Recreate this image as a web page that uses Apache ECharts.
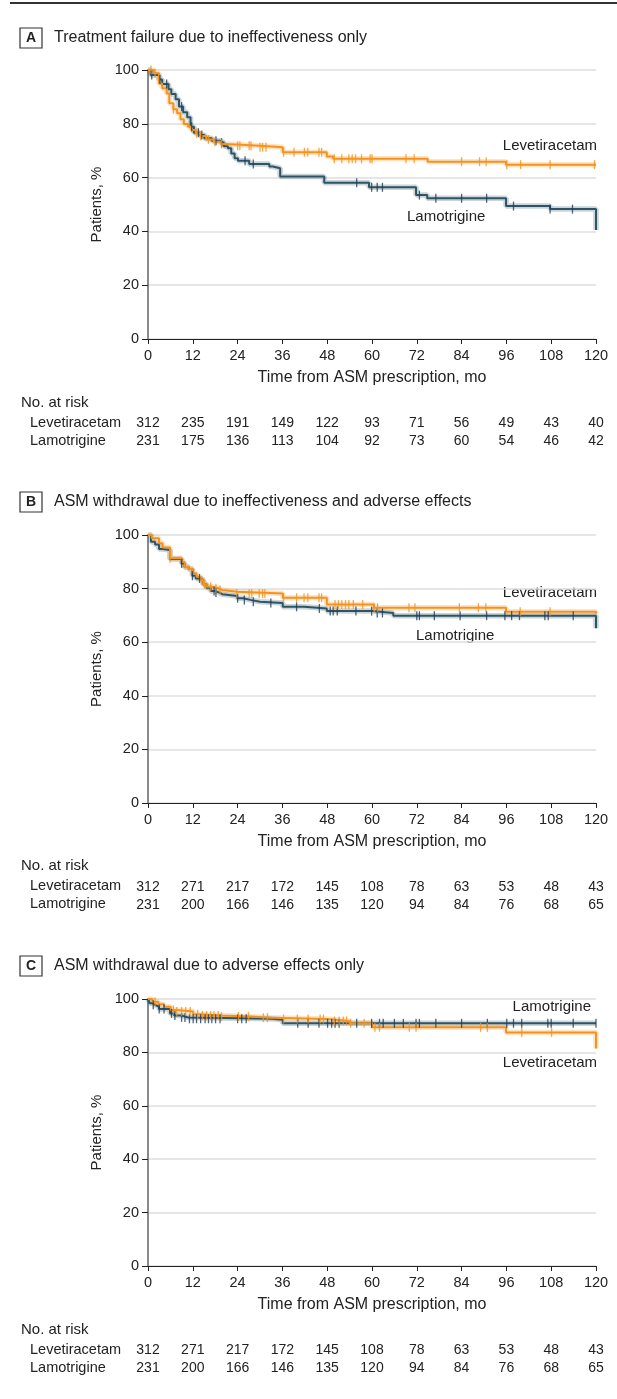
<!DOCTYPE html>
<html><head><meta charset="utf-8">
<script src="https://cdn.jsdelivr.net/npm/echarts@6/dist/echarts.min.js"></script>
<style>html,body{margin:0;padding:0;background:#fff}#c{width:617px;height:1399px}</style>
</head><body><div id="c"></div>
<script>
// ---------- DATA ----------
const xTicks = [0,12,24,36,48,60,72,84,96,108,120];
const panelTitles = ['Treatment failure due to ineffectiveness only',
  'ASM withdrawal due to ineffectiveness and adverse effects',
  'ASM withdrawal due to adverse effects only'];
const panelLetters = ['A','B','C'];

// Kaplan-Meier steps [month, % patients]
const levA = [[0,100],[1.6,98.8],[2.95,95.0],[3.8,93.2],[5.0,91.3],[5.7,87.6],[6.8,85.4],[7.8,83.9],[8.7,81.7],[9.6,79.9],[10.7,78.9],[11.6,77.7],[12.8,76.5],[14.0,75.5],[15.6,74.2],[17.6,73.3],[19.6,72.5],[20.8,71.8],[30,71.3],[36.1,69.4],[47.9,67.8],[49.6,67.0],[74.9,65.9],[95.9,64.8],[120,64.8]];
const lamA = [[0,100],[0.7,98.1],[2.95,96.5],[3.8,94.8],[5.5,92.8],[6.25,91.1],[7.4,89.1],[8.3,86.4],[9.4,84.3],[10.5,82.4],[11.4,78.9],[12.3,76.7],[13.8,75.8],[15.1,74.6],[17.1,73.7],[19.1,73.0],[20.3,71.7],[21.4,70.9],[22.3,69.0],[23.2,67.2],[24.1,66.3],[27.1,65.1],[32.5,64.1],[33.4,63.5],[35.4,60.4],[47.2,58.1],[59.2,56.4],[71.8,53.5],[74.8,52.3],[95.9,49.4],[107.7,48.3],[120,40.5]];
const levB = [[0,100],[1.0,98.8],[2.95,96.9],[3.9,95.3],[5.9,91.3],[9.0,89.9],[9.8,88.1],[10.9,87.3],[11.9,85.7],[13.0,84.4],[13.9,83.2],[14.8,81.6],[15.7,80.7],[17.1,80.1],[19.0,79.5],[19.9,78.8],[23.8,78.2],[36.1,76.6],[47.9,74.1],[60.5,72.9],[95.9,71.4],[120,70.6]];
const lamB = [[0,100],[0.8,97.5],[1.9,96.5],[2.95,94.8],[3.9,94.4],[5.9,91.0],[9.0,89.4],[9.8,88.1],[10.9,87.3],[11.9,84.8],[12.8,83.8],[13.9,83.2],[14.8,81.6],[15.7,80.3],[16.8,79.1],[17.9,78.5],[19.1,77.9],[19.9,77.2],[23.9,76.4],[25.5,75.7],[27.7,75.1],[30,74.6],[36.1,73.2],[41.8,72.6],[47.9,71.6],[60,70.9],[65.7,69.9],[120,65.2]];
const levC = [[0,100],[1.2,99.0],[2.8,98.0],[4.3,97.1],[6.1,95.9],[7.7,95.3],[12.1,94.3],[13.9,93.8],[19.7,93.4],[27.3,93.0],[33.0,92.5],[47.9,91.8],[54.0,90.9],[60,89.4],[95.9,87.5],[120,81.5]];
const lamC = [[0,100],[0.5,98.4],[1.2,97.8],[1.9,97.1],[2.95,96.3],[5.9,94.6],[7.0,93.8],[9.0,93.1],[10.8,92.6],[33.1,92.2],[36.1,90.9],[120,90.9]];

// censoring times (months)
const levAcens = [0.8,1.9,6.8,13.0,14.1,16.2,17.9,19.7,24.0,24.6,27.1,27.6,30.0,30.7,31.6,36.3,39.1,41.9,42.8,45.8,46.5,49.9,51.9,53.8,54.7,55.6,57.2,59.5,60.0,69.1,71.3,84.0,88.8,90.6,96.1,99.8,107.7,119.6];
const lamAcens = [1.0,3.2,5.0,9.0,11.7,13.5,14.4,18.2,19.7,26.0,28.2,55.9,59.9,61.4,62.8,72.7,77.1,84.0,90.7,97.9,107.7,113.7];
const levBcens = [5.9,14.4,15.1,16.8,18.2,19.3,23.8,27.1,27.8,29.8,30.7,31.3,36.3,39.8,41.8,42.8,45.8,46.5,50.1,51.0,51.9,52.9,53.8,55.0,57.5,60.6,61.5,69.9,71.5,83.4,88.5,90.5,99.7,107.7];
const lamBcens = [9.0,11.9,13.8,17.7,18.2,24.0,25.8,28.2,32.9,39.8,45.9,48.8,49.6,50.7,55.7,59.9,61.4,62.8,72.0,72.7,76.7,83.6,90.7,95.6,97.4,99.5,106.3,107.2,113.9];
const levCcens = [1.9,6.8,7.7,9.0,10.1,11.3,13.3,14.6,15.7,16.8,17.7,18.8,19.7,24.2,26.9,30.9,32.0,36.3,40.0,42.9,46.1,47.0,49.9,51.2,52.3,53.2,54.3,57.9,60.8,62.0,70.0,71.8,89.1,90.9,100.1,108.1];
const lamCcens = [1.4,3.0,4.3,6.3,7.2,9.0,9.9,11.1,12.1,13.0,14.1,15.3,16.2,17.1,18.1,19.3,24.0,25.1,26.3,40.1,42.9,45.8,48.1,49.2,50.1,51.2,55.9,59.9,62.0,63.0,66.0,68.4,71.8,72.7,77.1,84.0,90.9,96.1,97.9,100.1,107.1,108.0,113.9,120];

// numbers at risk
const levRiskA = [312,235,191,149,122,93,71,56,49,43,40];
const lamRiskA = [231,175,136,113,104,92,73,60,54,46,42];
const levRiskB = [312,271,217,172,145,108,78,63,53,48,43];
const lamRiskB = [231,200,166,146,135,120,94,84,76,68,65];
const levRiskC = [312,271,217,172,145,108,78,63,53,48,43];
const lamRiskC = [231,200,166,146,135,120,94,84,76,68,65];

// ---------- LAYOUT / STYLE ----------
const FONT = '"Liberation Sans",Arial,sans-serif';
const ORANGE = '#F5921E', DARK = '#2D5566', DARKTICK = '#1F3C5A';
const TXT = '#222';
const grids = [{top:70,height:269},{top:535,height:268},{top:999,height:267}];
const titleY = [38,502,966];
const riskHeadY = [403,866,1330];
const curves = [[levA,lamA,levAcens,lamAcens,levRiskA,lamRiskA],
                [levB,lamB,levBcens,lamBcens,levRiskB,lamRiskB],
                [levC,lamC,levCcens,lamCcens,levRiskC,lamRiskC]];
const curveLabels = [
  [{t:'Levetiracetam',x:597,y:146,a:'right'},{t:'Lamotrigine',x:407,y:217,a:'left'}],
  [{t:'Levetiracetam',x:597,y:593,a:'right'},{t:'Lamotrigine',x:416,y:636,a:'left'}],
  [{t:'Lamotrigine',x:591,y:1007,a:'right'},{t:'Levetiracetam',x:597,y:1063,a:'right'}]];

function survAt(curve,t){let s=curve[0][1];for(const [ti,si] of curve){if(ti<=t)s=si;}return s;}

const gridOpt=[],xAxes=[],yAxes=[],series=[],graphics=[];
graphics.push({type:'line',shape:{x1:10,y1:3,x2:617,y2:3},style:{stroke:'#333',lineWidth:2}});
grids.forEach((g,i)=>{
  gridOpt.push({left:148,width:448,top:g.top,height:g.height});
  const [lev,lam,levC_,lamC_,levR,lamR]=curves[i];
  xAxes.push({gridIndex:i,type:'value',min:0,max:120,interval:12,
    axisLine:{onZero:false,lineStyle:{color:TXT,width:1}},axisTick:{length:5,lineStyle:{color:TXT}},
    axisLabel:{fontSize:14.5,color:TXT,margin:9,fontFamily:FONT},splitLine:{show:false},
    name:'Time from ASM prescription, mo',nameLocation:'middle',nameGap:31,
    nameTextStyle:{fontSize:16,color:TXT,fontFamily:FONT}});
  [levR,lamR].forEach((arr,k)=>{
    xAxes.push({gridIndex:i,type:'value',min:0,max:120,interval:12,position:'bottom',offset:77+18*k,
      axisLine:{show:false},axisTick:{show:false},splitLine:{show:false},
      axisLabel:{fontSize:14,color:TXT,margin:0,fontFamily:FONT,formatter:v=>String(arr[Math.round(v/12)])}});
  });
  yAxes.push({gridIndex:i,type:'value',min:0,max:100,interval:20,
    axisLine:{show:true,onZero:false,lineStyle:{color:'#8a8a8a',width:2}},
    axisTick:{show:true,length:6,lineStyle:{color:TXT}},
    axisLabel:{fontSize:14.5,color:TXT,margin:9,fontFamily:FONT},
    splitLine:{show:true,lineStyle:{color:'#dedede',width:1.5}},
    name:'Patients, %',nameLocation:'middle',nameGap:44,
    nameTextStyle:{fontSize:15,color:TXT,fontFamily:FONT}});
  const xi=i*3;
  const addCurve=(data,col,tickCol,cens)=>{
    series.push({type:'line',xAxisIndex:xi,yAxisIndex:i,data:data,step:'end',showSymbol:false,silent:true,
      lineStyle:{color:col,width:5.5,opacity:0.25},z:2});
    series.push({type:'line',xAxisIndex:xi,yAxisIndex:i,data:data,step:'end',showSymbol:false,silent:true,
      lineStyle:{color:col,width:2},z:3});
    series.push({type:'scatter',xAxisIndex:xi,yAxisIndex:i,data:cens.map(t=>[t,survAt(data,t)]),
      symbol:'rect',symbolSize:[1.3,9],itemStyle:{color:tickCol},silent:true,z:4});
  };
  addCurve(lam,DARK,DARKTICK,lamC_);
  addCurve(lev,ORANGE,ORANGE,levC_);
  // panel title
  graphics.push({type:'rect',shape:{x:20,y:titleY[i]-10,width:22,height:20},style:{fill:'#fff',stroke:'#333',lineWidth:1.2}});
  graphics.push({type:'text',x:31,y:titleY[i],style:{text:panelLetters[i],fill:TXT,font:'bold 14px '+FONT,textAlign:'center',textVerticalAlign:'middle'}});
  graphics.push({type:'text',x:54,y:titleY[i],style:{text:panelTitles[i],fill:TXT,font:'16px '+FONT,textAlign:'left',textVerticalAlign:'middle'}});
  // at-risk headers
  graphics.push({type:'text',x:21,y:riskHeadY[i],style:{text:'No. at risk',fill:TXT,font:'15px '+FONT,textVerticalAlign:'middle'}});
  graphics.push({type:'text',x:30,y:riskHeadY[i]+20,style:{text:'Levetiracetam',fill:TXT,font:'14.5px '+FONT,textVerticalAlign:'middle'}});
  graphics.push({type:'text',x:30,y:riskHeadY[i]+38,style:{text:'Lamotrigine',fill:TXT,font:'14.5px '+FONT,textVerticalAlign:'middle'}});
  curveLabels[i].forEach(l=>graphics.push({type:'text',x:l.x,y:l.y,style:{text:l.t,fill:TXT,font:'15px '+FONT,textAlign:l.a,textVerticalAlign:'middle'}}));
});

const chart=echarts.init(document.getElementById('c'),null,{renderer:'canvas',width:617,height:1399});
chart.setOption({animation:false,backgroundColor:'#fff',textStyle:{fontFamily:FONT},
  grid:gridOpt,xAxis:xAxes,yAxis:yAxes,series:series,graphic:graphics});
</script></body></html>
